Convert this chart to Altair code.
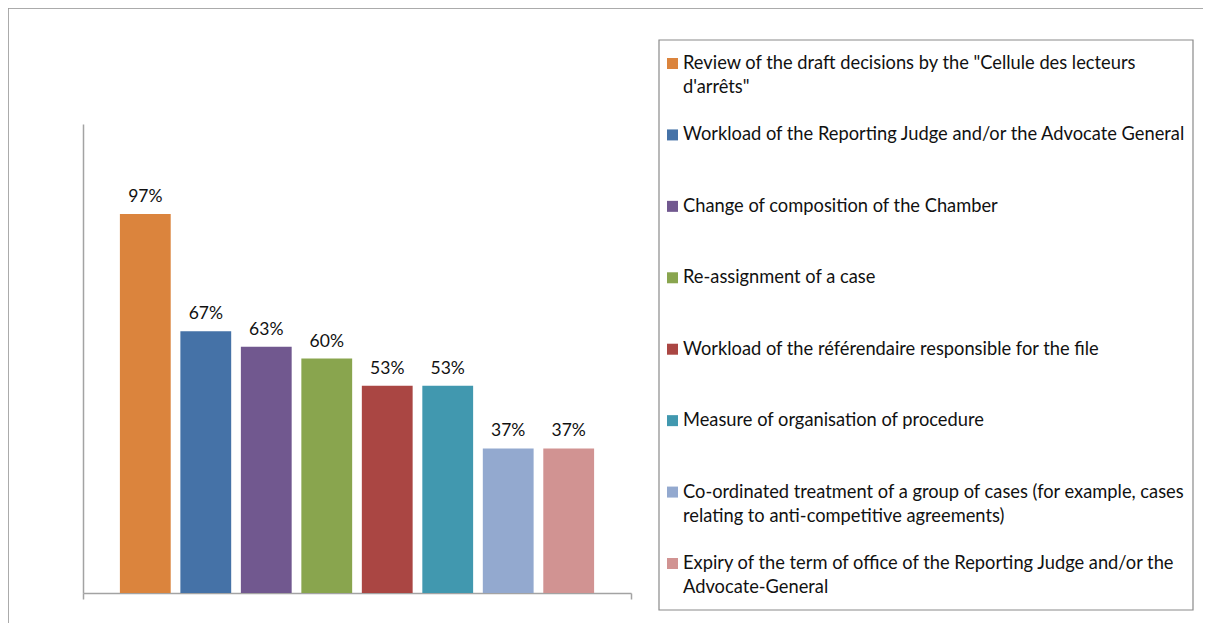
import altair as alt
import pandas as pd

# ---- data ----
legend_labels = [
    "Review of the draft decisions by the \"Cellule des lecteurs\nd'arrêts\"",
    "Workload of the Reporting Judge and/or the Advocate General",
    "Change of composition of the Chamber",
    "Re-assignment of a case",
    "Workload of the référendaire responsible for the file",
    "Measure of organisation of procedure",
    "Co-ordinated treatment of a group of cases (for example, cases\nrelating to anti-competitive agreements)",
    "Expiry of the term of office of the Reporting Judge and/or the\nAdvocate-General",
]
series = [s.replace("\n", " ") for s in legend_labels]
values = [0.97, 0.67, 0.63, 0.60, 0.53, 0.53, 0.37, 0.37]
colors = ["#DB843D", "#4572A7", "#71588F", "#89A54E",
          "#AA4643", "#4198AF", "#93A9CF", "#D19392"]

df = pd.DataFrame({
    "group": ["all"] * len(series),
    "series": series,
    "label": legend_labels,
    "value": values,
})

W, H = 1195, 615
FONT = "Lato"
AXIS_GRAY = "#a3a3a3"

color_scale = alt.Scale(domain=series, range=colors)

x_enc = alt.X("group:N",
              scale=alt.Scale(range=[75, 623], paddingInner=0, paddingOuter=0),
              axis=alt.Axis(labels=False, title=None, ticks=True, tickBand="extent",
                            tickSize=6, tickColor=AXIS_GRAY, domainColor=AXIS_GRAY,
                            domainWidth=1.5, tickWidth=1.5, offset=-(H - 585), grid=False))
xoff_enc = alt.XOffset("series:N", sort=series,
                       scale=alt.Scale(paddingInner=0.16, paddingOuter=0.61))
y_enc = alt.Y("value:Q",
              scale=alt.Scale(domain=[0, 1.2], range=[585, 116], nice=False, zero=True),
              axis=alt.Axis(labels=False, ticks=False, title=None, grid=False,
                            domainColor=AXIS_GRAY, domainWidth=1.5, offset=-75))

bars = alt.Chart(df).mark_bar().encode(
    x=x_enc,
    xOffset=xoff_enc,
    y=y_enc,
    color=alt.Color("series:N", scale=color_scale, legend=None),
)

bar_text = alt.Chart(df).mark_text(
    font=FONT, fontSize=17.5, color="#111111", baseline="alphabetic", dy=-12
).encode(
    x=x_enc,
    xOffset=xoff_enc,
    y=y_enc,
    text=alt.Text("value:Q", format=".0%"),
)

bar_layer = alt.layer(bars, bar_text)

legend_y = alt.Y("series:N", sort=series,
                 scale=alt.Scale(type="point", range=[55.5, 555.5], padding=0),
                 axis=None)

one = pd.DataFrame({"b": [0]})

legend_box = alt.Chart(one).mark_rect(
    fill=None, stroke="#8a8a8a", strokeWidth=1.2
).encode(
    x=alt.value(651), x2=alt.value(1185), y=alt.value(32), y2=alt.value(602)
)

frame_top = alt.Chart(one).mark_rule(color="#9a9a9a", strokeWidth=1.5).encode(
    x=alt.value(0), x2=alt.value(W), y=alt.value(0)
)
frame_left = alt.Chart(one).mark_rule(color="#9a9a9a", strokeWidth=1.5).encode(
    x=alt.value(0), y=alt.value(0), y2=alt.value(H)
)

legend_sym = alt.Chart(df).mark_point(
    shape="square", filled=True, size=121, opacity=1
).encode(
    x=alt.value(664.5),
    y=legend_y,
    color=alt.Color("series:N", scale=color_scale, legend=None),
)

legend_txt = alt.Chart(df).mark_text(
    font=FONT, fontSize=18.3, color="#111111", align="left",
    baseline="alphabetic", dy=5.5, lineBreak="\n", lineHeight=24
).encode(
    x=alt.value(675),
    y=legend_y,
    text="label:N",
)

chart = alt.layer(
    bar_layer, frame_top, frame_left, legend_box, legend_sym, legend_txt
).resolve_scale(
    x="independent", y="independent"
).properties(
    width=W, height=H, padding=0,
    autosize=alt.AutoSizeParams(type="none"),
).configure_view(
    stroke=None
).configure(background="white")

chart.save("out.html", embed_options={"renderer": "svg", "actions": False})
